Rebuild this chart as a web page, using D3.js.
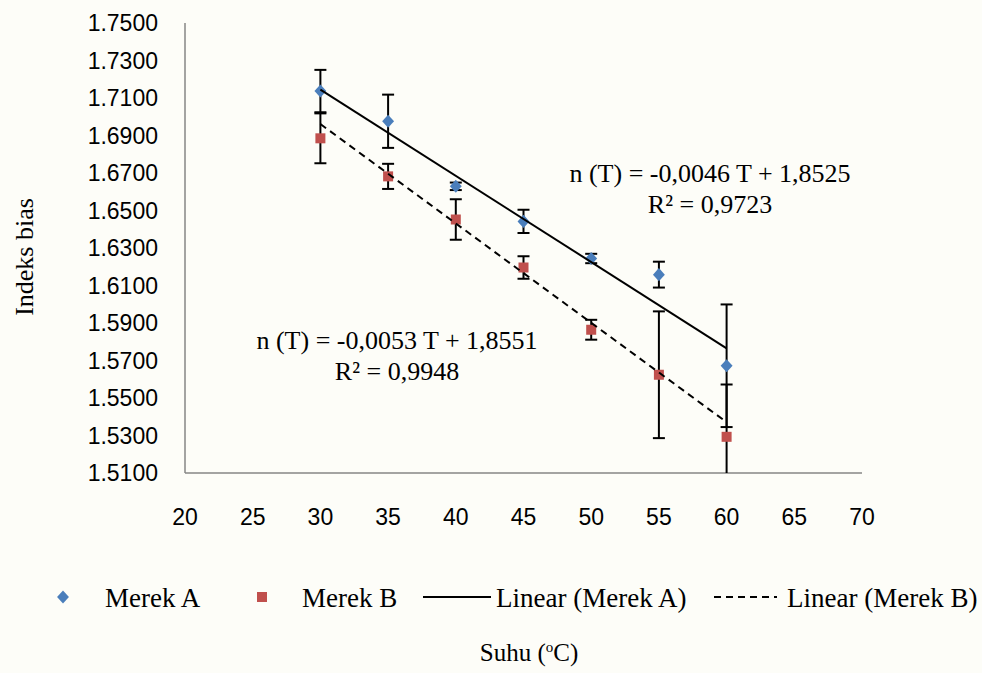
<!DOCTYPE html>
<html lang="id">
<head>
<meta charset="UTF-8">
<title>Indeks bias vs Suhu</title>
<style>
    body { margin: 0; padding: 0; background: #fdfdf8; }
    svg { display: block; }
    .serif { font-family: 'Liberation Serif', 'DejaVu Serif', 'Times New Roman', Times, serif; }
    .sans { font-family: 'Liberation Sans', Arial, sans-serif; }
</style>
</head>
<body>
<script src="https://d3js.org/d3.v7.min.js"></script>
<script>
    // data
    const suhu = [30, 35, 40, 45, 50, 55, 60];
    const merekA = [1.7137, 1.6976, 1.6629, 1.6442, 1.6244, 1.6158, 1.5672];
    const merekB = [1.6885, 1.6682, 1.6452, 1.6196, 1.5864, 1.5624, 1.5293];
    const errA = [0.0113, 0.0142, 0.0020, 0.0062, 0.0025, 0.0069, 0.0327];
    const errB = [0.0133, 0.0067, 0.0108, 0.0060, 0.0053, 0.0338, 0.0279];
    const xTicks = [20, 25, 30, 35, 40, 45, 50, 55, 60, 65, 70];
    const yTicks = [1.51, 1.53, 1.55, 1.57, 1.59, 1.61, 1.63, 1.65, 1.67, 1.69, 1.71, 1.73, 1.75];
    // trendline coefficients as printed
    const trendA = { slope: -0.0046, intercept: 1.8525, r2: '0,9723', eq: 'n (T) = -0,0046 T + 1,8525' };
    const trendB = { slope: -0.0053, intercept: 1.8551, r2: '0,9948', eq: 'n (T) = -0,0053 T + 1,8551' };

    const width = 982, height = 673;
    const blue = '#4a7ebb', red = '#c0504d';

    const svg = d3.select('body').append('svg')
        .attr('width', width)
        .attr('height', height);

    const x = d3.scaleLinear().domain([20, 70]).range([185, 862]);
    const y = d3.scaleLinear().domain([1.51, 1.75]).range([473, 23]);

    svg.append('defs').append('clipPath').attr('id', 'plot')
        .append('rect')
        .attr('x', x(20)).attr('y', y(1.75))
        .attr('width', x(70) - x(20)).attr('height', y(1.51) - y(1.75));

    // axes lines
    svg.append('line')
        .attr('x1', x(20)).attr('x2', x(20))
        .attr('y1', y(1.75)).attr('y2', y(1.51))
        .attr('stroke', '#868686').attr('stroke-width', 1.5);
    svg.append('line')
        .attr('x1', x(20)).attr('x2', x(70))
        .attr('y1', y(1.51)).attr('y2', y(1.51))
        .attr('stroke', '#868686').attr('stroke-width', 1.5);

    // tick labels
    svg.append('g').attr('class', 'sans').selectAll('text')
        .data(yTicks)
        .join('text')
        .attr('x', 158)
        .attr('y', d => y(d))
        .attr('dy', '0.36em')
        .attr('text-anchor', 'end')
        .attr('font-size', 23)
        .text(d => d.toFixed(4));

    svg.append('g').attr('class', 'sans').selectAll('text')
        .data(xTicks)
        .join('text')
        .attr('x', d => x(d))
        .attr('y', 525)
        .attr('text-anchor', 'middle')
        .attr('font-size', 23)
        .text(d => d);

    const plot = svg.append('g').attr('clip-path', 'url(#plot)');

    // error bars
    function errorBars(vals, errs) {
        const g = plot.append('g')
            .attr('stroke', '#000')
            .attr('stroke-width', 2);
        vals.forEach((v, i) => {
            const cx = x(suhu[i]);
            const top = y(v + errs[i]), bot = y(v - errs[i]);
            g.append('line').attr('x1', cx).attr('x2', cx).attr('y1', top).attr('y2', bot);
            g.append('line').attr('x1', cx - 6).attr('x2', cx + 6).attr('y1', top).attr('y2', top);
            g.append('line').attr('x1', cx - 6).attr('x2', cx + 6).attr('y1', bot).attr('y2', bot);
        });
    }
    errorBars(merekA, errA);
    errorBars(merekB, errB);

    // markers
    const diamond = d3.symbol().type(d3.symbolDiamond2).size(90);
    plot.append('g').selectAll('path')
        .data(merekA)
        .join('path')
        .attr('d', diamond)
        .attr('transform', (d, i) => `translate(${x(suhu[i])},${y(d)}) scale(1,1.1)`)
        .attr('fill', blue);

    plot.append('g').selectAll('rect')
        .data(merekB)
        .join('rect')
        .attr('x', (d, i) => x(suhu[i]) - 5)
        .attr('y', d => y(d) - 5)
        .attr('width', 10)
        .attr('height', 10)
        .attr('fill', red);

    // trendlines
    const line = d3.line().x(d => x(d[0])).y(d => y(d[1]));
    const xs = [d3.min(suhu), d3.max(suhu)];
    plot.append('path')
        .attr('d', line(xs.map(t => [t, trendA.slope * t + trendA.intercept])))
        .attr('fill', 'none').attr('stroke', '#000').attr('stroke-width', 2);
    plot.append('path')
        .attr('d', line(xs.map(t => [t, trendB.slope * t + trendB.intercept])))
        .attr('fill', 'none').attr('stroke', '#000').attr('stroke-width', 2)
        .attr('stroke-dasharray', '7,5');

    // equations
    function equation(t, cx, by) {
        const g = svg.append('g')
            .attr('class', 'serif')
            .attr('font-size', 26)
            .attr('text-anchor', 'middle');
        g.append('text').attr('x', cx).attr('y', by).text(t.eq);
        g.append('text').attr('x', cx).attr('y', by + 31).text('R² = ' + t.r2);
    }
    equation(trendA, 710, 182);
    equation(trendB, 397, 349);

    // axis titles
    svg.append('text')
        .attr('class', 'serif')
        .attr('transform', 'translate(33,257) rotate(-90)')
        .attr('text-anchor', 'middle')
        .attr('font-size', 26)
        .text('Indeks bias');

    const xt = svg.append('text')
        .attr('class', 'serif')
        .attr('x', 529)
        .attr('y', 661)
        .attr('text-anchor', 'middle')
        .attr('font-size', 25);
    xt.append('tspan').text('Suhu (');
    xt.append('tspan').attr('font-size', 15).attr('dy', -9).text('o');
    xt.append('tspan').attr('dy', 9).text('C)');

    // legend
    const legend = svg.append('g')
        .attr('class', 'serif')
        .attr('font-size', 27);
    const ly = 597;
    legend.append('path')
        .attr('d', diamond)
        .attr('transform', `translate(63,${ly}) scale(1,1.1)`)
        .attr('fill', blue);
    legend.append('text').attr('x', 105).attr('y', ly + 10).text('Merek A');
    legend.append('rect')
        .attr('x', 257).attr('y', ly - 5).attr('width', 10).attr('height', 10)
        .attr('fill', red);
    legend.append('text').attr('x', 302).attr('y', ly + 10).text('Merek B');
    legend.append('line')
        .attr('x1', 423).attr('x2', 491).attr('y1', ly).attr('y2', ly)
        .attr('stroke', '#000').attr('stroke-width', 2);
    legend.append('text').attr('x', 496).attr('y', ly + 10).text('Linear (Merek A)');
    legend.append('line')
        .attr('x1', 714).attr('x2', 777).attr('y1', ly).attr('y2', ly)
        .attr('stroke', '#000').attr('stroke-width', 2)
        .attr('stroke-dasharray', '7,5');
    legend.append('text').attr('x', 787).attr('y', ly + 10).text('Linear (Merek B)');
</script>
</body>
</html>
